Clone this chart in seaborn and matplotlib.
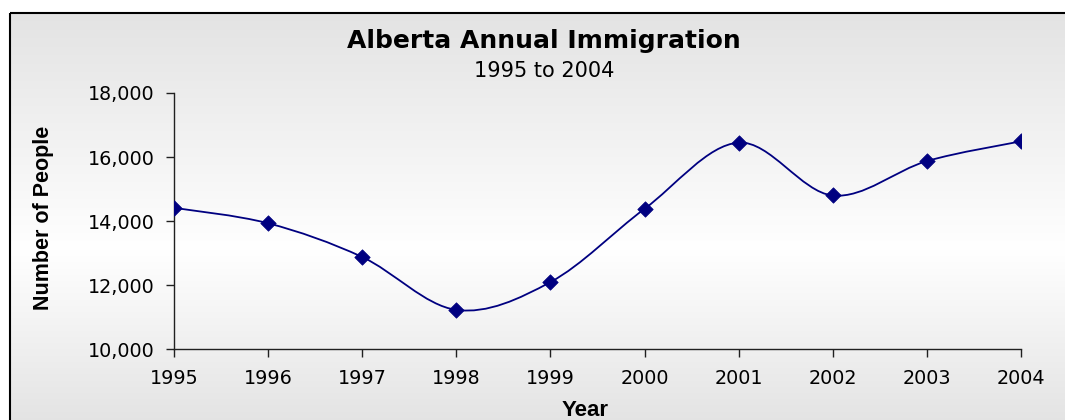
import numpy as np
import matplotlib
matplotlib.use("Agg")
import matplotlib.pyplot as plt
from matplotlib.path import Path
from matplotlib.patches import PathPatch, Rectangle
from matplotlib.ticker import FuncFormatter
import seaborn as sns

# Alberta immigration, people per year
years = [1995, 1996, 1997, 1998, 1999, 2000, 2001, 2002, 2003, 2004]
immigrants = [14416, 13934, 12881, 11231, 12098, 14385, 16451, 14801, 15875, 16492]
y_ticks = [10000, 12000, 14000, 16000, 18000]

title = "Alberta Annual Immigration"
subtitle = "1995 to 2004"
x_label = "Year"
y_label = "Number of People"

sns.set_theme(style="white")
plt.rcParams["font.family"] = ["DejaVu Sans"]
plt.rcParams["text.color"] = "black"
plt.rcParams["axes.labelcolor"] = "black"

W, H = 1065, 420
navy = "#000080"
axis_color = "#202020"

fig = plt.figure(figsize=(W / 100, H / 100), dpi=100)
fig.patch.set_facecolor("white")

# Framed chart panel with a grey-white-grey vertical gradient
bg = fig.add_axes([0, 0, 1, 1], zorder=-10)
bg.set_xlim(0, W)
bg.set_ylim(H, 0)
bg.axis("off")
rows = np.linspace(12, H + 5, 400)
grey, white, mid = 0.89, 1.0, 250.0
shade = np.where(
    rows < mid,
    grey + (white - grey) * (rows - 12) / (mid - 12),
    white - (white - grey) * (rows - mid) / (H + 5 - mid),
)
grad = np.repeat(shade[:, None, None], 3, axis=2)
bg.imshow(grad, extent=[10, W + 5, H + 5, 12], aspect="auto",
          interpolation="bilinear")
bg.add_patch(Rectangle((10, 13), W, H, fill=False, edgecolor="black", lw=1.5))

# Plot area
ax = fig.add_axes([174 / W, (H - 349.3) / H, 847 / W, 256.3 / H])
ax.set_facecolor("none")

# Smoothed line: cubic Bezier segments through each point (Catmull-Rom style)
pts = np.column_stack([years, immigrants]).astype(float)
padded = np.vstack([pts[0], pts, pts[-1]])
verts = [pts[0]]
codes = [Path.MOVETO]
for i in range(len(pts) - 1):
    p0, p1, p2, p3 = padded[i], padded[i + 1], padded[i + 2], padded[i + 3]
    verts += [p1 + (p2 - p0) / 6, p2 - (p3 - p1) / 6, p2]
    codes += [Path.CURVE4] * 3
ax.add_patch(PathPatch(Path(verts, codes), fill=False, edgecolor=navy,
                       lw=1.3, zorder=2))

sns.scatterplot(x=years, y=immigrants, marker="D", s=62, color=navy,
                edgecolor=navy, linewidth=0.5, zorder=3, ax=ax, legend=False)

ax.set_xlim(1995, 2004)
ax.set_ylim(10000, 18000)
ax.set_xticks(years)
ax.set_yticks(y_ticks)
ax.yaxis.set_major_formatter(FuncFormatter(lambda v, p: f"{int(v):,}"))

sns.despine(ax=ax)
for side in ("left", "bottom"):
    ax.spines[side].set_color(axis_color)
    ax.spines[side].set_linewidth(1.0)
ax.tick_params(axis="both", bottom=True, left=True, direction="out",
               length=6, width=1, color=axis_color, labelsize=13.8,
               labelcolor="black")
ax.tick_params(axis="x", pad=8)
ax.tick_params(axis="y", pad=8)

ax.set_xlabel(x_label, fontsize=16, fontweight="bold", family="Liberation Sans")
ax.xaxis.set_label_coords(411 / 847, -(400 - 349.3) / 256.3)
ax.set_ylabel(y_label, fontsize=15.5, fontweight="bold", family="Liberation Sans")
ax.yaxis.set_label_coords((54 - 174) / 847, (349.3 - 218) / 256.3)

fig.text(544 / W, (H - 48) / H, title, ha="center", va="baseline",
         fontsize=18, fontweight="bold")
fig.text(544 / W, (H - 77) / H, subtitle, ha="center", va="baseline",
         fontsize=15)

fig.savefig("out.png", dpi=100)
